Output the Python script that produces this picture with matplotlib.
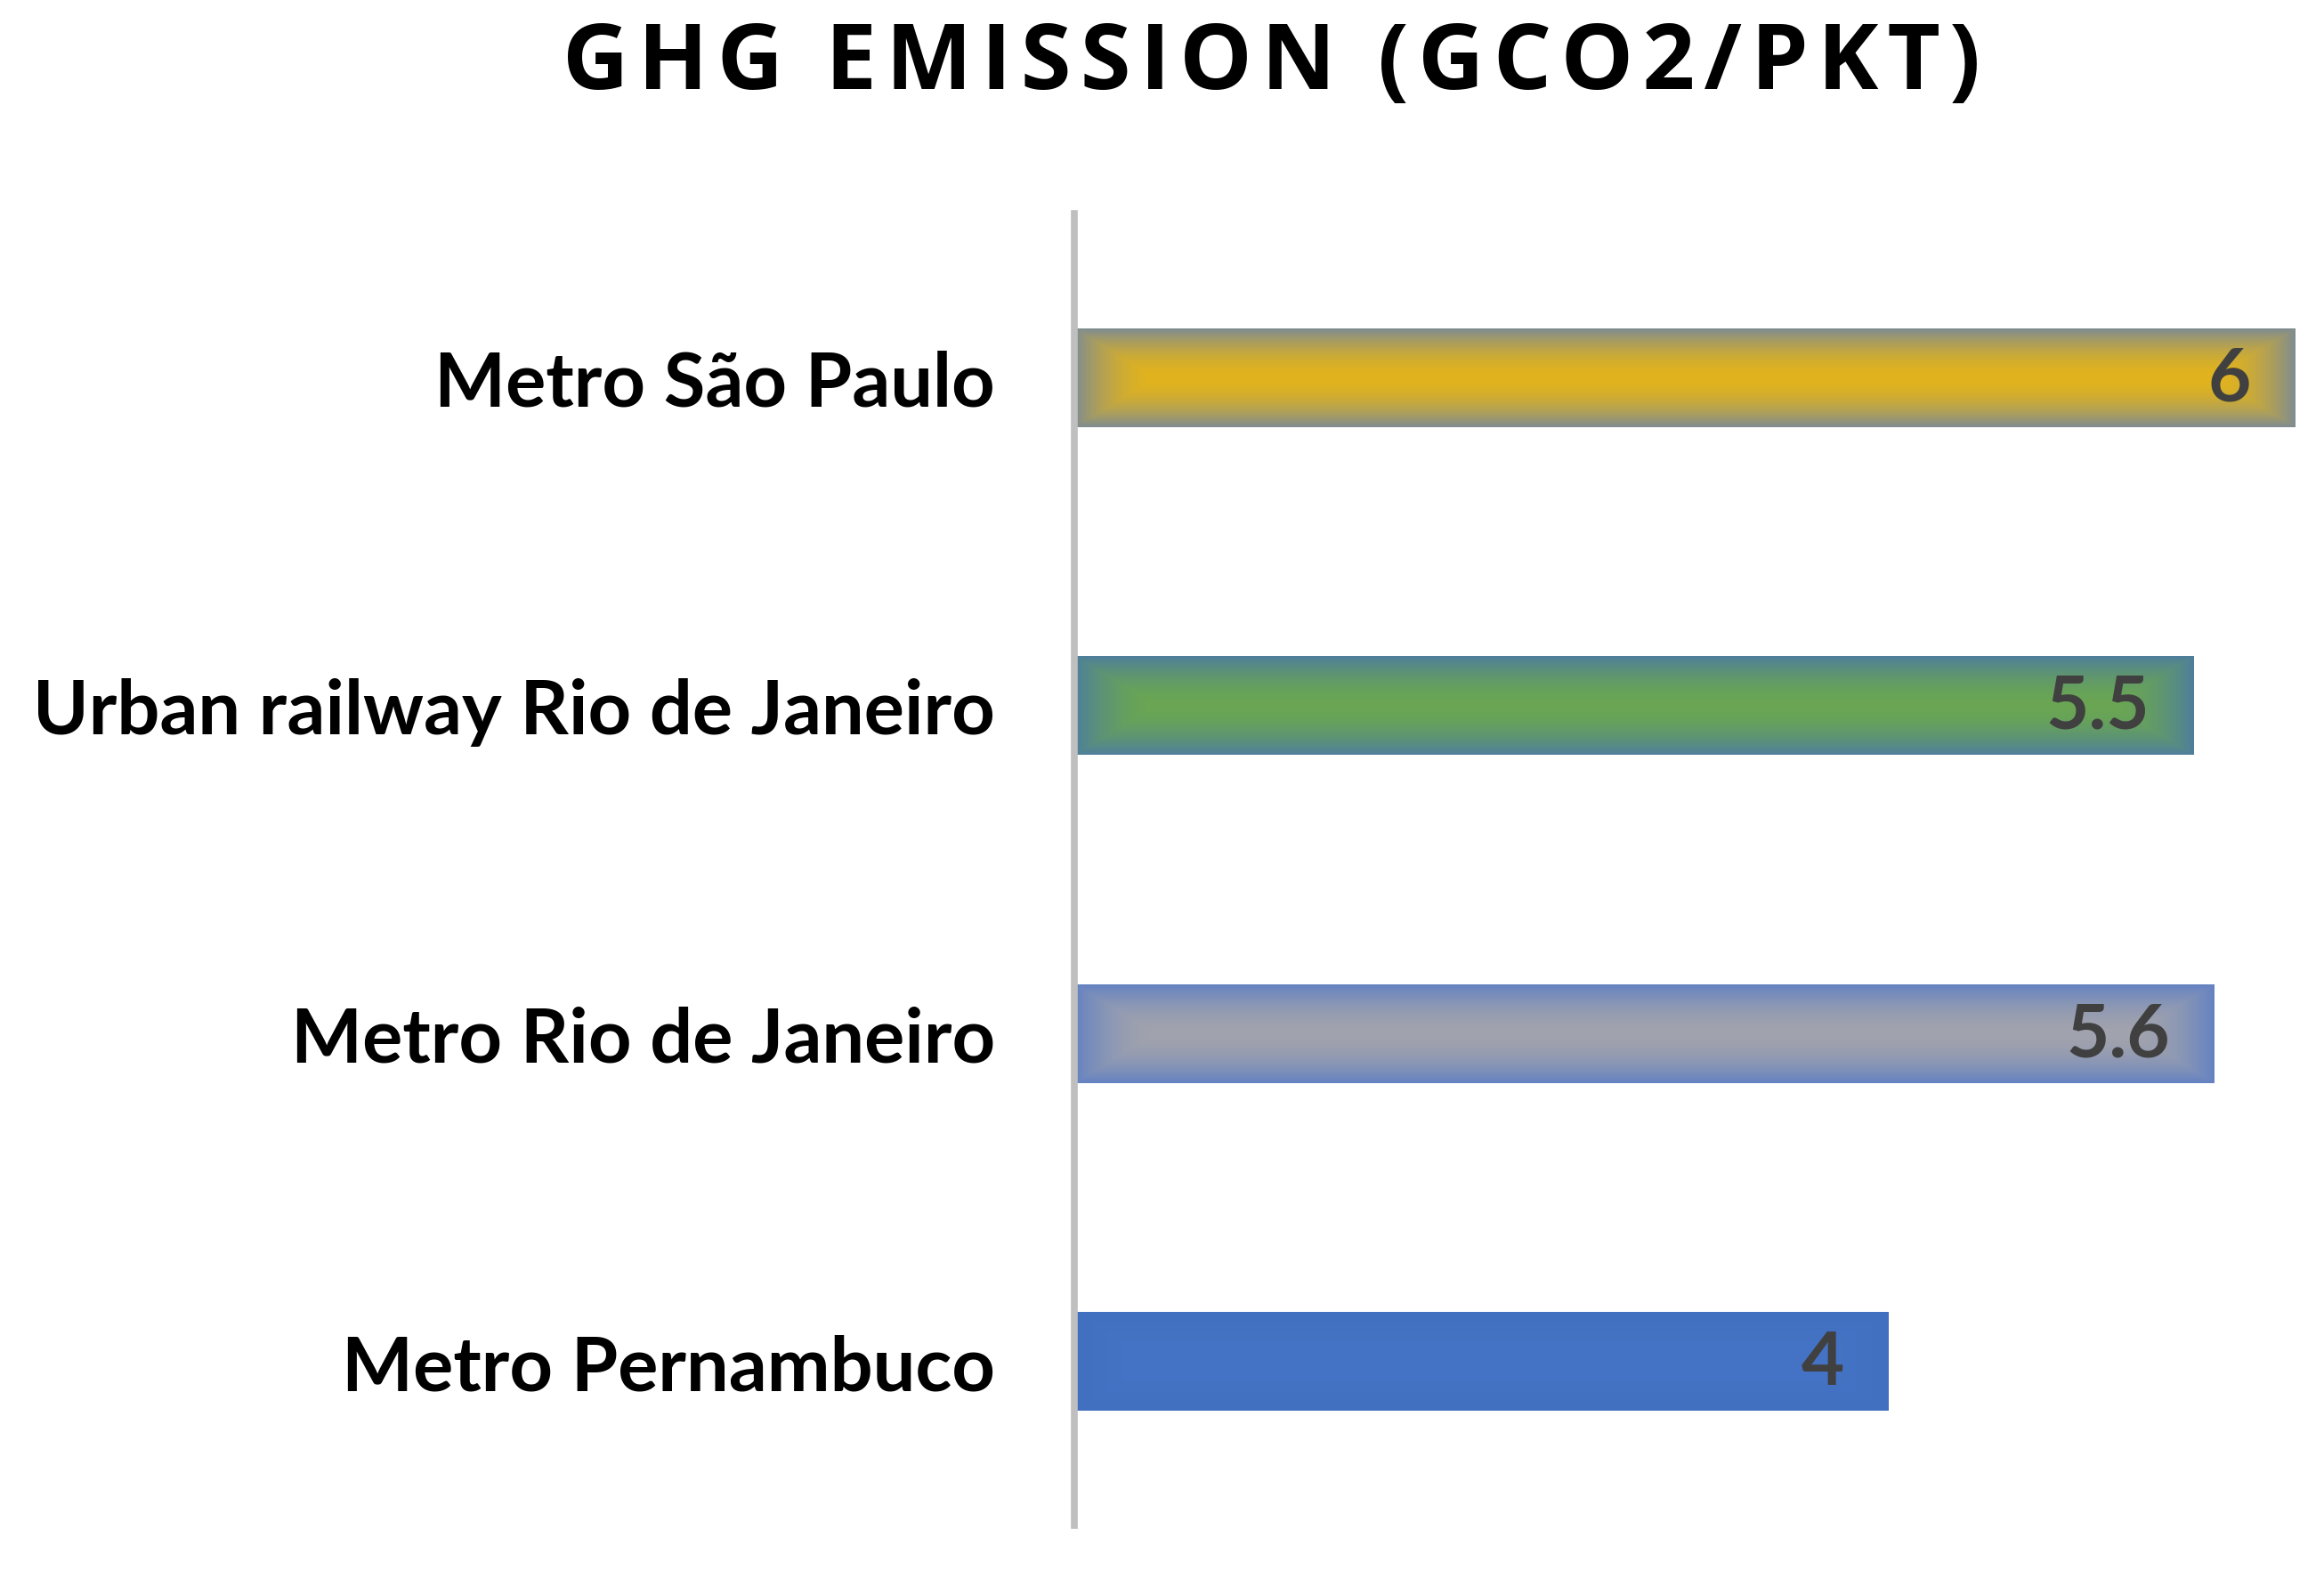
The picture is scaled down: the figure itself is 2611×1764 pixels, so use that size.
import numpy as np
import matplotlib
matplotlib.use("Agg")
import matplotlib.pyplot as plt
from matplotlib.colors import to_rgb

categories = ["Metro São Paulo", "Urban railway Rio de Janeiro",
              "Metro Rio de Janeiro", "Metro Pernambuco"]
values = [6, 5.5, 5.6, 4]
value_labels = ["6", "5.5", "5.6", "4"]
center_colors = ["#E1B31D", "#6AA653", "#A1A3AD", "#4573C5"]
edge_colors = ["#7E8C92", "#4E7E9C", "#6482C2", "#4270C0"]
title = "GHG EMISSION (GCO2/PKT)"

W, H = 2611, 1765
fig = plt.figure(figsize=(W / 100, H / 100), dpi=100)
ax = fig.add_axes([1207 / W, 1 - 1715 / H, (2579 - 1207) / W, (1715 - 241) / H])
ax.set_xlim(0, 6)
ax.set_ylim(len(categories) - 0.5, -0.5)

y = np.arange(len(categories))
bars = ax.barh(y, values, height=0.30, color=edge_colors, zorder=2)

# path-style gradient fill for each bar
fig.canvas.draw()
for bar, cc, ec in zip(bars, center_colors, edge_colors):
    x0, y0 = bar.get_x(), bar.get_y()
    w, h = bar.get_width(), bar.get_height()
    p0 = ax.transData.transform((x0, y0))
    p1 = ax.transData.transform((x0 + w, y0 + h))
    wp, hp = int(abs(p1[0] - p0[0])), int(abs(p1[1] - p0[1]))
    xs = np.arange(wp) + 0.5
    ys = np.arange(hp) + 0.5
    XX, YY = np.meshgrid(xs, ys)
    d = np.minimum.reduce([XX * 0.6, (wp - XX) * 0.6, YY, hp - YY])
    t = np.clip(d / (hp / 2.0), 0, 1)
    f = (1 - t) ** 1.8
    c0 = np.array(to_rgb(cc))
    c1 = np.array(to_rgb(ec))
    img = c0[None, None, :] * (1 - f[..., None]) + c1[None, None, :] * f[..., None]
    im = ax.imshow(img, extent=(x0, x0 + w, y0 + h, y0), aspect="auto",
                   zorder=3, interpolation="bilinear")
    im.set_clip_path(bar)

ax.set_xlim(0, 6)
ax.set_ylim(len(categories) - 0.5, -0.5)

for yi, v, lab in zip(y, values, value_labels):
    ax.annotate(lab, xy=(v, yi), xytext=(-36, -1), textcoords="offset points",
                ha="right", va="center", fontsize=60, fontweight="bold",
                color="#404040", family=["Lato", "DejaVu Sans"], zorder=5)

ax.set_yticks(y)
ax.set_yticklabels(categories, fontsize=61, fontweight="bold",
                   family=["Lato", "DejaVu Sans"], color="black")
ax.tick_params(axis="y", length=0, pad=64)
ax.set_xticks([])
for s in ["top", "right", "bottom"]:
    ax.spines[s].set_visible(False)
ax.spines["left"].set_color("#BFBFBF")
ax.spines["left"].set_linewidth(5.5)
ax.spines["left"].set_zorder(6)

spaced = "\u200a".join(title)
fig.text(1428 / W, 1 - 74 / H, spaced, ha="center", va="center",
         fontsize=74, fontweight="bold", family=["Open Sans", "DejaVu Sans"],
         color="black")

fig.savefig("out.png", dpi=100, facecolor="white")
